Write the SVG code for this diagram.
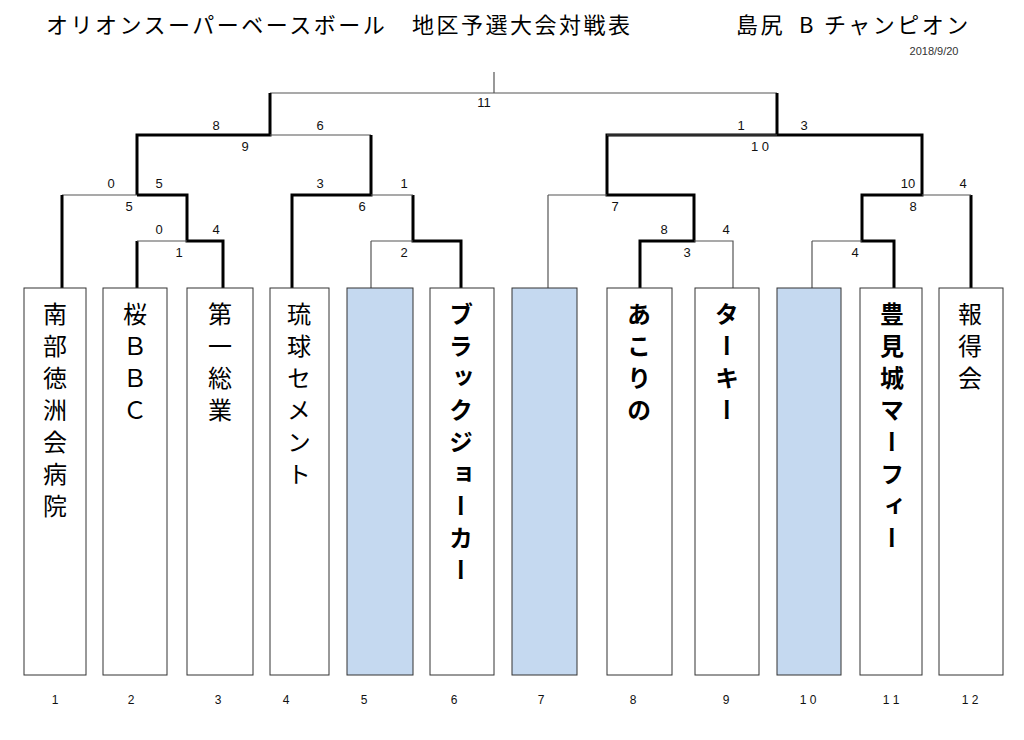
<svg xmlns="http://www.w3.org/2000/svg" width="1024" height="740" viewBox="0 0 1024 740">
<style>
.t{stroke:#555;stroke-width:1.2;fill:none}
.k{stroke:#000;stroke-width:3;fill:none}
.box{fill:#fff;stroke:#333;stroke-width:1}
.bl{fill:#c5d9f0;stroke:#333;stroke-width:1}
.s{font-family:"Liberation Sans","Noto Sans CJK JP",sans-serif;font-size:13px;fill:#111;text-anchor:middle}
.v{font-family:"Noto Sans CJK JP",sans-serif;font-size:24px;writing-mode:vertical-rl;letter-spacing:8px;fill:#000}
.b{font-weight:bold}
.n{font-family:"Liberation Sans",sans-serif;font-size:12px;fill:#111;text-anchor:middle}
.title{font-family:"Noto Sans CJK JP",sans-serif;font-size:22px;letter-spacing:2.5px;fill:#000}
</style>
<rect width="1024" height="740" fill="#fff"/>
<text class="title" x="46" y="33">オリオンスーパーベースボール</text>
<text class="title" x="412" y="33">地区予選大会対戦表</text>
<text class="title" x="736" y="33">島尻</text>
<text class="title" x="799" y="33">B</text>
<text class="title" x="824" y="33">チャンピオン</text>
<text x="934" y="55" font-family="Liberation Sans,sans-serif" font-size="11" fill="#333" text-anchor="middle">2018/9/20</text>
<g id="connectors">
<path class="t" d="M494 72V93M494 93H777M270 93H494"/>
<path class="k" d="M270 93V135H137V195M137 195H187V241H223V288M137 241V288"/>
<path class="t" d="M270 135H371M62 195H137M137 241H187"/>
<path class="k" d="M62 195V288M371 135V195H292V288M413 195V241H461V288"/>
<path class="t" d="M371 195H413M371 241H413M371 241V288"/>
<path class="k" d="M777 93V135H922V195H862V241H894V288M777 135H607V195H694V241H640V288M971 195V288"/>
<path class="t" d="M607 135H777M548 195H607M548 195V288M694 241H733V288M922 195H971M812 241H862M812 241V288"/>
</g>
<g id="scores">
<text class="s" x="484" y="107">11</text>
<text class="s" x="216" y="130">8</text><text class="s" x="320" y="130">6</text><text class="s" x="245" y="151">9</text>
<text class="s" x="111" y="188">0</text><text class="s" x="159" y="188">5</text><text class="s" x="129" y="211">5</text>
<text class="s" x="159" y="234">0</text><text class="s" x="216" y="234">4</text><text class="s" x="179" y="257">1</text>
<text class="s" x="320" y="188">3</text><text class="s" x="404" y="188">1</text><text class="s" x="362" y="211">6</text>
<text class="s" x="404" y="257">2</text>
<text class="s" x="741" y="130">1</text><text class="s" x="804" y="130">3</text><text class="s" x="760" y="151">1 0</text>
<text class="s" x="615" y="211">7</text>
<text class="s" x="664" y="234">8</text><text class="s" x="726" y="234">4</text><text class="s" x="687" y="257">3</text>
<text class="s" x="908" y="188">10</text><text class="s" x="963" y="188">4</text><text class="s" x="913" y="211">8</text>
<text class="s" x="855" y="257">4</text>
</g>
<g id="n1"><rect class="box" x="24" y="288" width="62" height="387"/><text class="v" x="55" y="302">南部徳洲会病院</text><text class="n" x="55" y="704">1</text></g>
<g id="n2"><rect class="box" x="103" y="288" width="64" height="387"/><text class="v" x="135" y="302">桜ＢＢＣ</text><text class="n" x="131" y="704">2</text></g>
<g id="n3"><rect class="box" x="187" y="288" width="66" height="387"/><text class="v" x="220" y="302">第一総業</text><text class="n" x="218" y="704">3</text></g>
<g id="n4"><rect class="box" x="270" y="288" width="59" height="387"/><text class="v" x="299" y="302">琉球セメント</text><text class="n" x="286" y="704">4</text></g>
<g id="n5"><rect class="bl" x="347" y="288" width="66" height="387"/><text class="n" x="364" y="704">5</text></g>
<g id="n6"><rect class="box" x="430" y="288" width="64" height="387"/><text class="v b" x="461" y="302">ブラックジョーカー</text><text class="n" x="454" y="704">6</text></g>
<g id="n7"><rect class="bl" x="512" y="288" width="65" height="387"/><text class="n" x="541" y="704">7</text></g>
<g id="n8"><rect class="box" x="607" y="288" width="65" height="387"/><text class="v b" x="639" y="302">あこりの</text><text class="n" x="633" y="704">8</text></g>
<g id="n9"><rect class="box" x="695" y="288" width="64" height="387"/><text class="v b" x="727" y="302">ターキー</text><text class="n" x="726" y="704">9</text></g>
<g id="n10"><rect class="bl" x="777" y="288" width="64" height="387"/><text class="n" x="808" y="704">1 0</text></g>
<g id="n11"><rect class="box" x="860" y="288" width="62" height="387"/><text class="v b" x="892" y="302">豊見城マーフィー</text><text class="n" x="891" y="704">1 1</text></g>
<g id="n12"><rect class="box" x="939" y="288" width="64" height="387"/><text class="v" x="970" y="302">報得会</text><text class="n" x="970" y="704">1 2</text></g>
</svg>
